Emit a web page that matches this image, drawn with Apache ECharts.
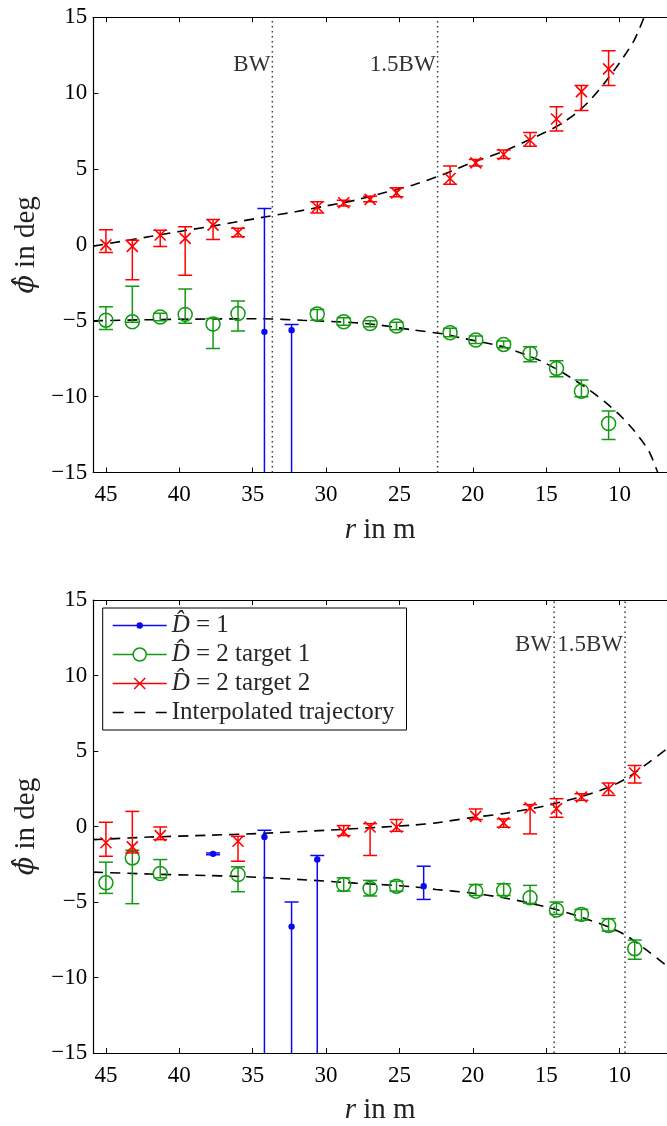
<!DOCTYPE html>
<html><head><meta charset="utf-8">
<script src="https://cdn.jsdelivr.net/npm/echarts@6/dist/echarts.min.js"></script>
<style>html,body{margin:0;padding:0;background:#fff}#c{width:667px;height:1126px}</style>
</head><body><div id="c"></div>
<script>
// ---------- data ----------
const xTicks = [10, 15, 20, 25, 30, 35, 40, 45];
const xMin = 6.77, xMax = 45.86;

// rows: [r, phi, low, high]
const topD1 = [
  [34.2, -5.73, -30, 2.4],
  [32.35, -5.62, -30, -5.24]
];
const topT1 = [
  [45.0, -4.96, -5.57, -4.08],
  [43.2, -5.07, -5.1, -2.72],
  [41.3, -4.75, -5.0, -4.5],
  [39.6, -4.58, -5.17, -2.9],
  [37.7, -5.22, -6.82, -4.85],
  [36.0, -4.52, -5.68, -3.7],
  [30.6, -4.56, -4.96, -4.25],
  [28.8, -5.07, -5.3, -4.8],
  [27.0, -5.18, -5.4, -5.0],
  [25.2, -5.35, -5.6, -5.1],
  [21.55, -5.79, -6.05, -5.5],
  [19.8, -6.27, -6.5, -6.0],
  [17.9, -6.56, -6.78, -6.33],
  [16.1, -7.15, -7.7, -6.72],
  [14.3, -8.14, -8.69, -7.64],
  [12.6, -9.64, -10.0, -8.91],
  [10.75, -11.77, -12.82, -10.94]
];
const topT2 = [
  [45.0, 0.0, -0.5, 1.0],
  [43.2, -0.1, -2.3, 0.3],
  [41.3, 0.65, -0.1, 0.97],
  [39.6, 0.43, -2.0, 1.2],
  [37.7, 1.3, 0.36, 1.68],
  [36.0, 0.82, 0.53, 1.09],
  [30.6, 2.5, 2.1, 2.84],
  [28.8, 2.78, 2.56, 2.95],
  [27.0, 3.0, 2.85, 3.2],
  [25.2, 3.43, 3.17, 3.76],
  [21.55, 4.38, 4.0, 5.2],
  [19.8, 5.41, 5.2, 5.63],
  [17.9, 5.96, 5.7, 6.25],
  [16.1, 6.9, 6.5, 7.4],
  [14.3, 8.3, 7.5, 9.1],
  [12.6, 10.1, 8.85, 10.5],
  [10.75, 11.6, 10.5, 12.8]
];
const topTraj1 = [
  [45.86, -5.0], [42, -4.93], [38, -4.88], [34.3, -4.87], [31.6, -4.97], [28, -5.13],
  [26.4, -5.28], [24.1, -5.6], [22, -5.87], [20.7, -6.15], [18, -6.7], [16.5, -7.2],
  [15.25, -7.7], [14, -8.35], [13, -8.95], [12, -9.6], [11, -10.35], [10, -11.2],
  [9, -12.25], [8, -13.6], [7.4, -15]
];
const topTraj2 = [
  [45.86, -0.08], [44, 0.22], [42, 0.55], [40, 0.88], [38, 1.2], [36, 1.53], [34, 1.87],
  [32, 2.2], [30, 2.57], [28, 2.95], [26, 3.45], [24, 3.97], [22, 4.65], [20, 5.45],
  [18, 6.13], [16, 7.0], [14.3, 7.8], [13, 8.65], [12, 9.55], [11, 10.7], [10, 12.0],
  [9, 13.5], [8.33, 15.0]
];
const topBW = [33.66, 22.4];

const botD1 = [
  [37.7, -1.81, -1.87, -1.75],
  [34.2, -0.69, -30, -0.25],
  [32.35, -6.63, -30, -5.0],
  [30.6, -2.19, -30, -1.92],
  [23.35, -3.95, -4.83, -2.63]
];
const botT1 = [
  [45.0, -3.73, -4.43, -2.36],
  [43.2, -2.08, -5.11, -1.57],
  [41.3, -3.11, -3.4, -2.19],
  [36.0, -3.18, -4.32, -2.67],
  [28.8, -3.84, -4.28, -3.4],
  [27.0, -4.1, -4.6, -3.57],
  [25.2, -3.95, -4.28, -3.62],
  [19.8, -4.28, -4.57, -3.84],
  [17.9, -4.23, -4.57, -3.79],
  [16.1, -4.72, -5.09, -3.9],
  [14.3, -5.53, -5.82, -5.0],
  [12.6, -5.82, -6.2, -5.49],
  [10.75, -6.55, -6.92, -6.1],
  [8.97, -8.09, -8.79, -7.52]
];
const botT2 = [
  [45.0, -1.08, -1.97, 0.28],
  [43.2, -1.35, -1.75, 1.0],
  [41.3, -0.6, -0.87, -0.03],
  [36.0, -0.98, -2.3, -0.65],
  [28.8, -0.36, -0.6, 0.06],
  [27.0, -0.03, -1.92, 0.19],
  [25.2, -0.03, -0.32, 0.46],
  [19.8, 0.67, 0.46, 1.16],
  [17.9, 0.24, -0.05, 0.5],
  [16.1, 1.23, -0.49, 1.45],
  [14.3, 1.18, 0.61, 1.84],
  [12.6, 1.95, 1.73, 2.17],
  [10.75, 2.5, 2.06, 2.88],
  [8.97, 3.54, 2.88, 4.04]
];
const botTraj1 = [
  [45.86, -3.02], [42, -3.15], [38, -3.25], [36.4, -3.29], [32, -3.5], [28, -3.75],
  [26.4, -3.84], [24, -4.0], [22.5, -4.17], [20.24, -4.39], [18, -4.7], [16, -5.1],
  [14.3, -5.5], [12.5, -6.05], [10.75, -6.65], [9.5, -7.25], [8, -8.3], [6.77, -9.25]
];
const botTraj2 = [
  [45.86, -0.87], [42, -0.7], [38, -0.58], [34.75, -0.47], [30, -0.25], [26.4, -0.05],
  [24, 0.1], [22.5, 0.24], [20.24, 0.57], [17.97, 0.85], [15.25, 1.33], [12.53, 2.0],
  [10.75, 2.6], [9.5, 3.2], [8, 4.25], [6.77, 5.15]
];
const botBW = [14.46, 9.63];
const bwLabels = ['BW', '1.5BW'];
const topBWLabelY = 11.85, botBWLabelY = 12.0;

const names = ['D\u0302 = 1', 'D\u0302 = 2 target 1', 'D\u0302 = 2 target 2', 'Interpolated trajectory'];
const BLUE = '#0a0af0', GREEN = '#129a12', RED = '#ff0000';

// ---------- helpers ----------
const FONT = '"Liberation Serif", "Times New Roman", serif';
const PHIFONT = '"DejaVu Serif", serif';

function errRender(kind, color) {
  return function (params, api) {
    const r = api.value(0), v = api.value(1), lo = api.value(2), hi = api.value(3);
    const p = api.coord([r, v]), a = api.coord([r, lo]), b = api.coord([r, hi]);
    const cw = 7;
    const st = { stroke: color, lineWidth: 1.5, fill: 'none' };
    const ch = [
      { type: 'line', shape: { x1: a[0], y1: a[1], x2: b[0], y2: b[1] }, style: st },
      { type: 'line', shape: { x1: a[0] - cw, y1: a[1], x2: a[0] + cw, y2: a[1] }, style: st },
      { type: 'line', shape: { x1: b[0] - cw, y1: b[1], x2: b[0] + cw, y2: b[1] }, style: st }
    ];
    if (kind === 'o') {
      ch.push({ type: 'circle', shape: { cx: p[0], cy: p[1], r: 7 }, style: { stroke: color, lineWidth: 1.5, fill: 'none' } });
    } else if (kind === 'x') {
      const s = 5.5;
      ch.push({ type: 'line', shape: { x1: p[0] - s, y1: p[1] - s, x2: p[0] + s, y2: p[1] + s }, style: { stroke: color, lineWidth: 1.6 } });
      ch.push({ type: 'line', shape: { x1: p[0] - s, y1: p[1] + s, x2: p[0] + s, y2: p[1] - s }, style: { stroke: color, lineWidth: 1.6 } });
    } else {
      ch.push({ type: 'circle', shape: { cx: p[0], cy: p[1], r: 3.2 }, style: { fill: color } });
    }
    return { type: 'group', children: ch };
  };
}

function bwRender(labelY) {
  return function (params, api) {
    const x = api.value(0);
    const a = api.coord([x, -15]), b = api.coord([x, 15]), t = api.coord([x, labelY]);
    return {
      type: 'group', children: [
        { type: 'line', shape: { x1: a[0], y1: a[1], x2: b[0], y2: b[1] }, style: { stroke: '#3c3c3c', lineWidth: 1.5, lineDash: [1.6, 3.4] } },
        { type: 'text', x: t[0] - 2, y: t[1], style: { text: bwLabels[params.dataIndex], fill: '#333', font: '23px ' + FONT, align: 'right', verticalAlign: 'middle' } }
      ]
    };
  };
}

const nameStyle = { fontSize: 29, fontFamily: FONT, color: '#222',
  rich: { i: { fontStyle: 'italic', fontSize: 29, fontFamily: FONT, color: '#222' },
          p: { fontStyle: 'italic', fontSize: 27, fontFamily: PHIFONT, color: '#222' } } };

function xAxisPair(gridIndex) {
  const base = {
    gridIndex, type: 'value', inverse: true, min: xMin, max: xMax,
    axisLine: { show: true, onZero: false, lineStyle: { color: '#000', width: 1.2 } },
    splitLine: { show: false }
  };
  return [
    Object.assign({}, base, {
      position: 'bottom',
      axisTick: { show: true, inside: true, length: 5, customValues: xTicks, lineStyle: { color: '#000', width: 1 } },
      axisLabel: { show: true, customValues: xTicks, margin: 11, fontSize: 23, fontFamily: FONT, color: '#000' },
      name: '{i|r} in m', nameLocation: 'middle', nameGap: 43,
      nameTextStyle: nameStyle
    }),
    Object.assign({}, base, {
      position: 'top',
      axisTick: { show: true, inside: true, length: 5, customValues: xTicks, lineStyle: { color: '#000', width: 1 } },
      axisLabel: { show: false }
    })
  ];
}

function yAxis(gridIndex) {
  return {
    gridIndex, type: 'value', min: -15, max: 15, interval: 5,
    axisLine: { show: true, onZero: false, lineStyle: { color: '#000', width: 1.2 } },
    axisTick: { show: true, inside: true, length: 5, lineStyle: { color: '#000', width: 1 } },
    axisLabel: { margin: 6, fontSize: 23, fontFamily: FONT, color: '#000', formatter: v => String(v).replace('-', '\u2212') },
    splitLine: { show: false },
    name: '{p|\u03D5\u0302} in deg', nameLocation: 'middle', nameGap: 42,
    nameTextStyle: nameStyle
  };
}

function errSeries(name, data, kind, color, xi, yi) {
  return { type: 'custom', name, data, xAxisIndex: xi, yAxisIndex: yi, clip: true, z: 5,
    encode: { x: 0, y: 1 }, renderItem: errRender(kind, color) };
}
function trajSeries(data, xi, yi) {
  return { type: 'line', name: 'traj', data, xAxisIndex: xi, yAxisIndex: yi, smooth: 0.25, symbol: 'none', clip: true, z: 3,
    lineStyle: { color: '#000', width: 1.6, type: [10, 7] }, silent: true };
}
function bwSeries(data, labelY, xi, yi) {
  return { type: 'custom', name: 'bw', data: data.map(v => [v, labelY]), xAxisIndex: xi, yAxisIndex: yi, z: 2,
    encode: { x: 0, y: 1 }, renderItem: bwRender(labelY) };
}

// legend icons (54 x 16 box)
const anchors = 'M0,0h0.01v0.01h-0.01z M53.99,15.99h0.01v0.01h-0.01z ';
const iconBlue = 'path://' + anchors + 'M0,7.25h54v1.5h-54z M23.8,8a3.2,3.2 0 1,1 6.4,0a3.2,3.2 0 1,1 -6.4,0z';
const iconGreen = 'path://' + anchors + 'M0,7.25h20v1.5h-20z M34,7.25h20v1.5h-20z M19.7,8a7.3,7.3 0 1,1 14.6,0a7.3,7.3 0 1,1 -14.6,0z M21.2,8a5.8,5.8 0 1,0 11.6,0a5.8,5.8 0 1,0 -11.6,0z';
const iconRed = 'path://' + anchors + 'M0,7.25h54v1.5h-54z M22.03,1.97L33.03,12.97L31.97,14.03L20.97,3.03z M22.03,14.03L20.97,12.97L31.97,1.97L33.03,3.03z';
const iconDash = 'path://' + anchors + 'M0,7.25h11v1.5h-11z M21.5,7.25h11v1.5h-11z M43,7.25h11v1.5h-11z';

function dummy(name, color) {
  return { type: 'line', name, data: [], xAxisIndex: 2, yAxisIndex: 1, color, itemStyle: { color, borderWidth: 0 }, lineStyle: { color } };
}

const chart = echarts.init(document.getElementById('c'), null, { renderer: 'canvas' });
chart.setOption({
  backgroundColor: '#fff',
  animation: false,
  grid: [
    { left: 93.3, top: 17.3, right: -1, height: 455.2 },
    { left: 93.3, top: 600, right: -1, height: 455 }
  ],
  xAxis: [...xAxisPair(0), ...xAxisPair(1)],
  yAxis: [yAxis(0), yAxis(1)],
  legend: {
    orient: 'vertical', left: 102.7, top: 608,
    padding: [5, 12, 5, 10], itemGap: 4, itemWidth: 54, itemHeight: 16,
    backgroundColor: '#fff', borderColor: '#000', borderWidth: 1, borderRadius: 0,
    selectedMode: false,
    textStyle: { fontSize: 25, fontFamily: FONT, color: '#262626', rich: { i: { fontStyle: 'italic', fontSize: 25, fontFamily: FONT, color: '#262626' } } },
    formatter: n => n.startsWith('D\u0302') ? '{i|D\u0302}' + n.slice(2) : n,
    itemStyle: { borderWidth: 0 },
    data: [
      { name: names[0], icon: iconBlue },
      { name: names[1], icon: iconGreen },
      { name: names[2], icon: iconRed },
      { name: names[3], icon: iconDash }
    ]
  },
  series: [
    bwSeries(topBW, topBWLabelY, 0, 0),
    trajSeries(topTraj1, 0, 0),
    trajSeries(topTraj2, 0, 0),
    errSeries('t_d1', topD1, 'dot', BLUE, 0, 0),
    errSeries('t_t1', topT1, 'o', GREEN, 0, 0),
    errSeries('t_t2', topT2, 'x', RED, 0, 0),

    bwSeries(botBW, botBWLabelY, 2, 1),
    trajSeries(botTraj1, 2, 1),
    trajSeries(botTraj2, 2, 1),
    errSeries('b_d1', botD1, 'dot', BLUE, 2, 1),
    errSeries('b_t1', botT1, 'o', GREEN, 2, 1),
    errSeries('b_t2', botT2, 'x', RED, 2, 1),

    dummy(names[0], BLUE),
    dummy(names[1], GREEN),
    dummy(names[2], RED),
    dummy(names[3], '#000')
  ]
});
</script>
</body></html>
